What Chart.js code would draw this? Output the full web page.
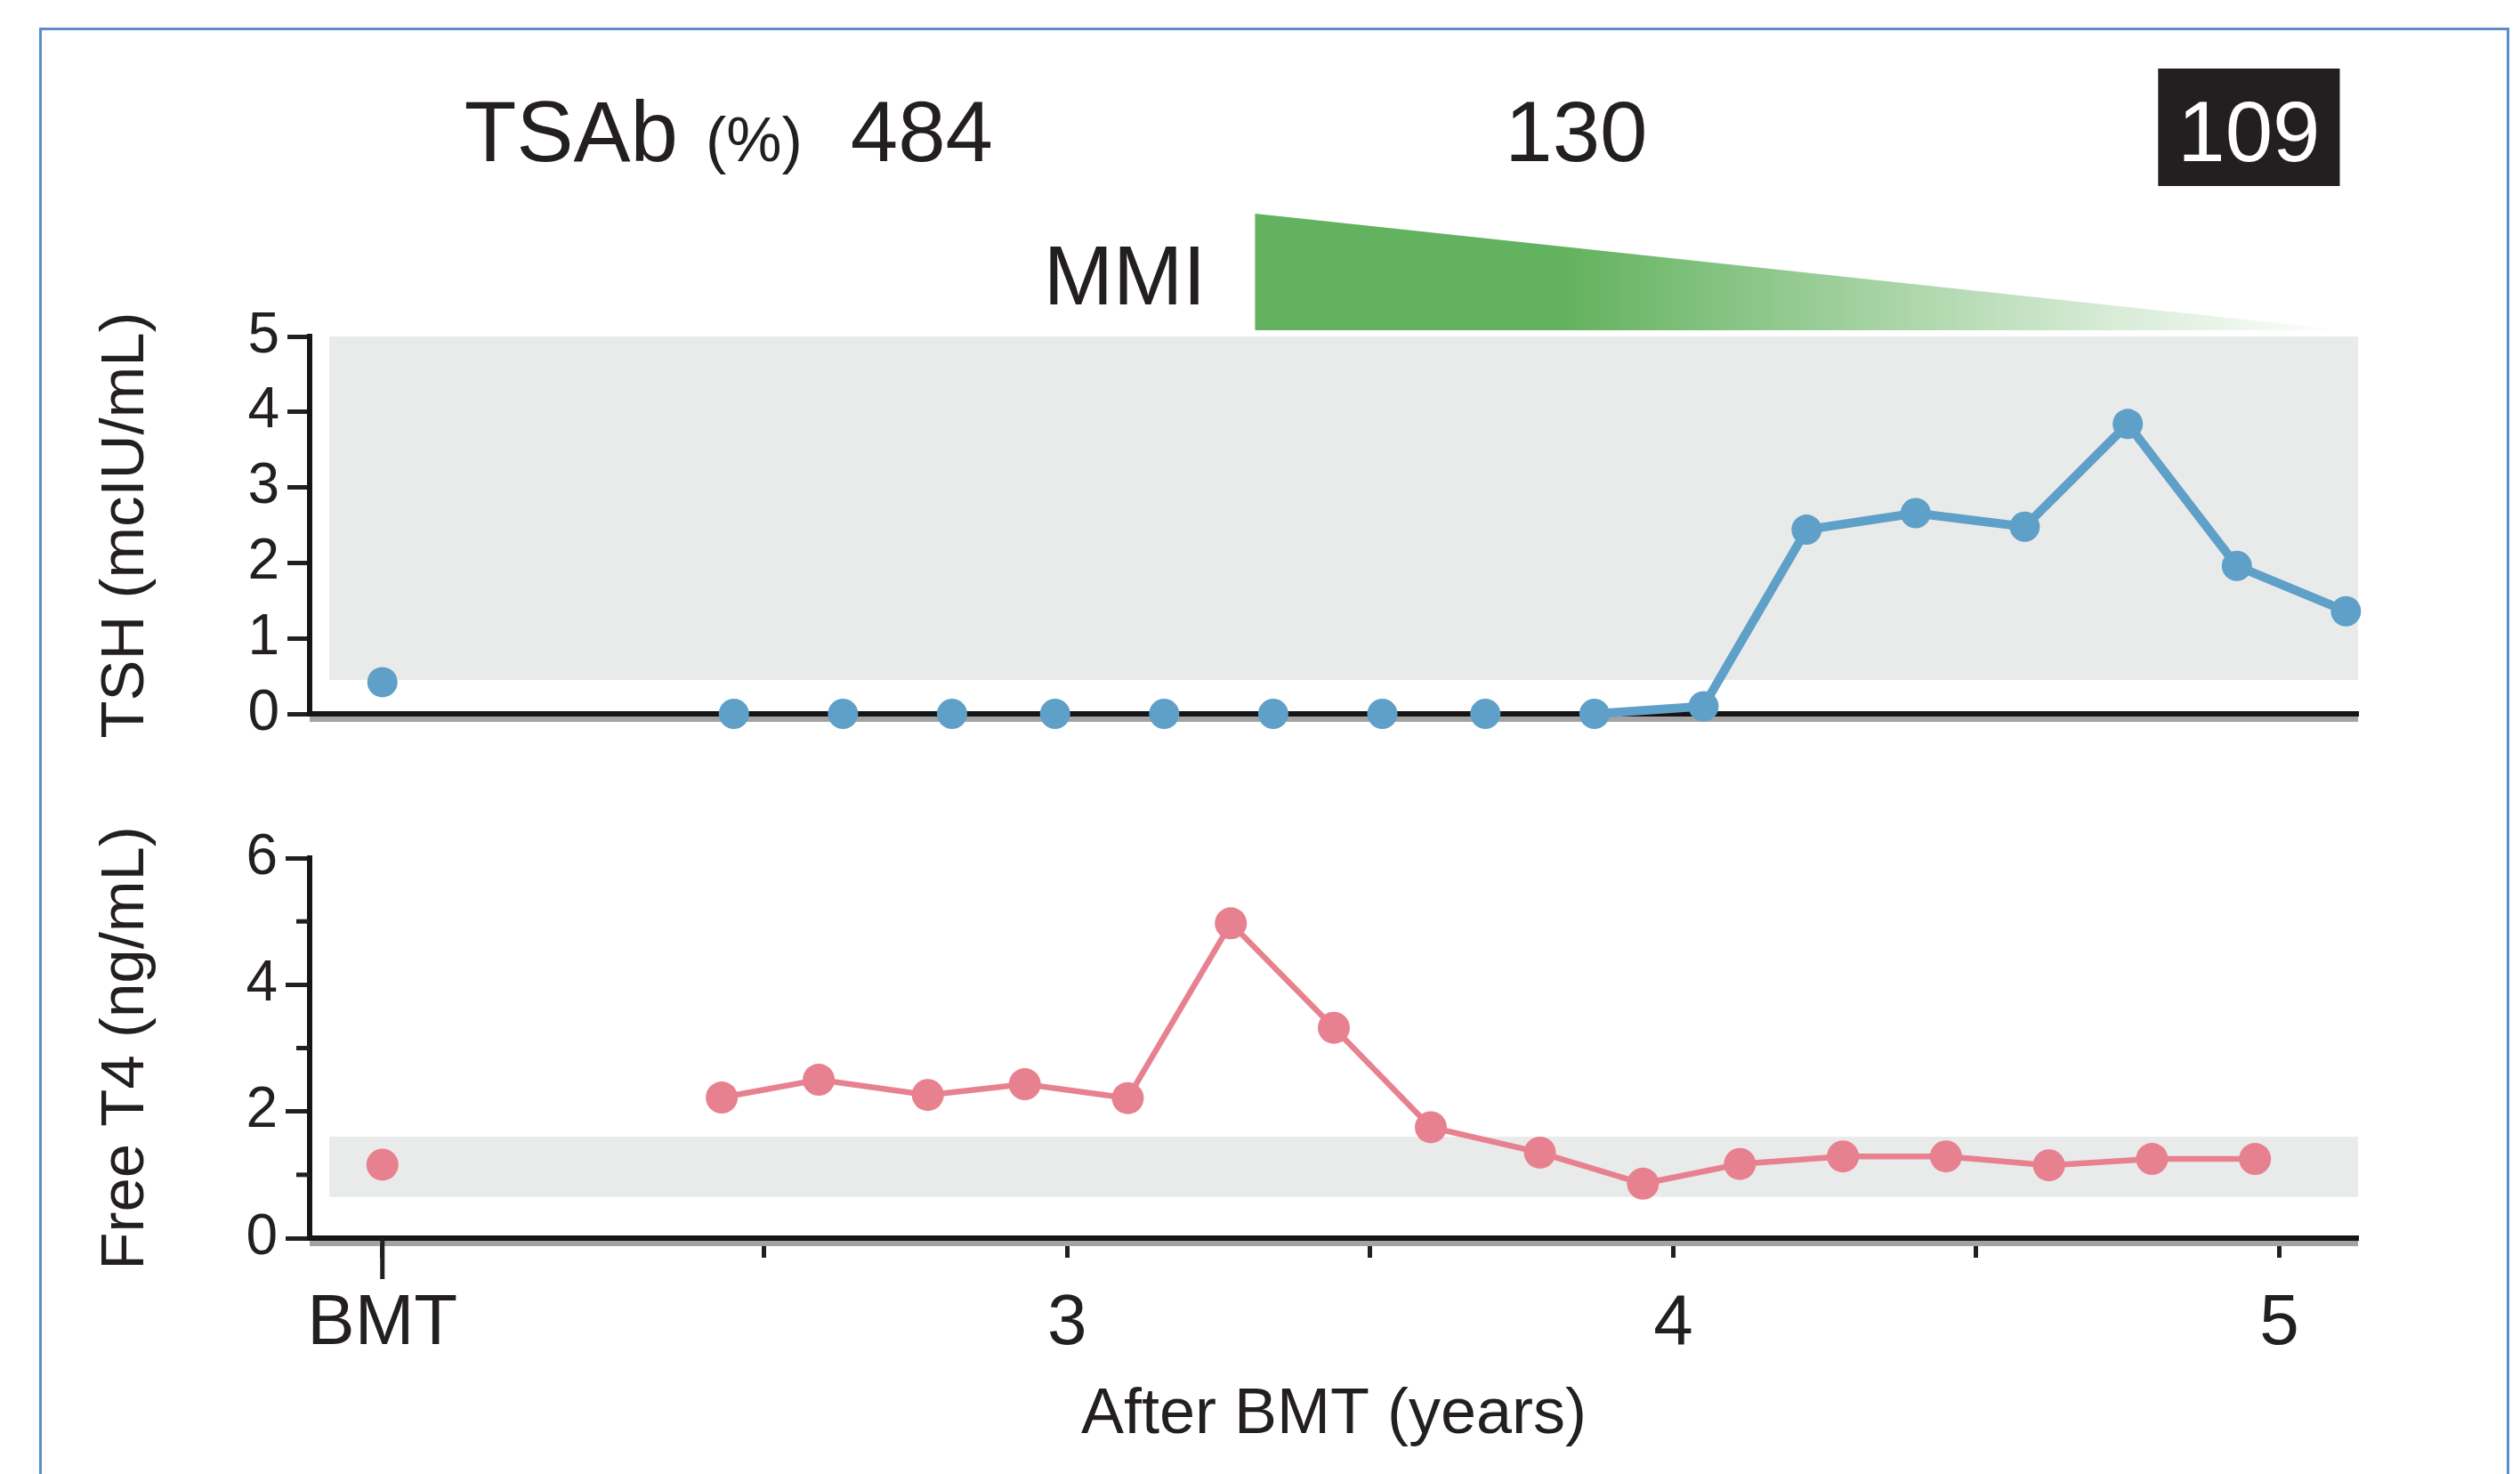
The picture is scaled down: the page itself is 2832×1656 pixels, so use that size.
<!DOCTYPE html>
<html>
<head>
<meta charset="utf-8">
<script src="https://cdn.jsdelivr.net/npm/chart.js@4.4.0/dist/chart.umd.min.js"></script>
<style>
  html, body { margin: 0; padding: 0; background: #fff; }
  #frame { position: absolute; left: 44px; top: 31px; width: 2770px; height: 1700px;
           border: 3px solid #5b8ec9; pointer-events: none; }
  #topChart { position: absolute; left: 0; top: 0; }
  #bottomChart { position: absolute; left: 0; top: 860px; }
</style>
</head>
<body>
<div id="frame"></div>
<canvas id="topChart" width="2832" height="860"></canvas>
<canvas id="bottomChart" width="2832" height="796"></canvas>
<script>
// x axis: years after BMT, with BMT itself shown at the axis break
const xMin = 1.75;
const xMax = 5.13;
const bmtX = 1.87;
const xTickValues = [1.87, 2.5, 3, 3.5, 4, 4.5, 5];
const xTickLabels = ['BMT', '', '3', '', '4', '', '5'];

// TSH (mcIU/mL)
const tshAtBmt = 0.42;
const tshYears = [2.45, 2.63, 2.81, 2.98, 3.16, 3.34, 3.52, 3.69, 3.87, 4.05, 4.22, 4.40, 4.58, 4.75, 4.93, 5.11];
const tshValues = [0, 0, 0, 0, 0, 0, 0, 0, 0, 0.1, 2.44, 2.66, 2.48, 3.84, 1.96, 1.36];
const tshNormal = [0.45, 5];

// Free T4 (ng/mL)
const ft4AtBmt = 1.16;
const ft4Years = [2.43, 2.59, 2.77, 2.93, 3.10, 3.27, 3.44, 3.60, 3.78, 3.95, 4.11, 4.28, 4.45, 4.62, 4.79, 4.96];
const ft4Values = [2.22, 2.50, 2.26, 2.43, 2.21, 4.97, 3.32, 1.75, 1.35, 0.86, 1.17, 1.29, 1.29, 1.15, 1.25, 1.25];
const ft4Normal = [0.65, 1.6];

// TSAb (%) measurements and MMI course
const tsabYears = [2.76, 3.84, 4.95];
const tsabLabels = ['484', '130', '109'];
const tsabBoxed = [false, false, true];
const mmiStart = 3.31;
const mmiFullUntil = 3.82;
const mmiEnd = 5.08;

const ink = '#231f20';
const blue = '#5fa0c8';
const pink = '#e8818f';
const green = [99, 178, 95];
const bandGrey = '#e9ebea';
const sans = "'Liberation Sans', Arial, sans-serif";

// grey normal-range band plus the soft shadow under the x axis line
const bandPlugin = {
    id: 'normalBand',
    beforeDatasetsDraw(chart, args, opts) {
        const {ctx, chartArea} = chart;
        const y = chart.scales.y;
        ctx.save();
        ctx.fillStyle = bandGrey;
        const top = y.getPixelForValue(opts.range[1]);
        const bottom = y.getPixelForValue(opts.range[0]);
        ctx.fillRect(chartArea.left + 22, top, chartArea.right - chartArea.left - 22, bottom - top);
        ctx.fillStyle = '#a3a3a3';
        ctx.fillRect(chartArea.left, chartArea.bottom + 3, chartArea.right - chartArea.left, 6);
        ctx.restore();
    }
};

// TSAb values and the tapering MMI wedge above the TSH panel
const headerPlugin = {
    id: 'header',
    afterDraw(chart) {
        const ctx = chart.ctx;
        const x = chart.scales.x;
        ctx.save();
        ctx.textBaseline = 'alphabetic';
        ctx.font = '96px ' + sans;
        let firstLeft = 0;
        tsabLabels.forEach((label, i) => {
            const cx = x.getPixelForValue(tsabYears[i]);
            const w = ctx.measureText(label).width;
            if (i === 0) firstLeft = cx - w / 2;
            if (tsabBoxed[i]) {
                ctx.fillStyle = ink;
                ctx.fillRect(cx - w / 2 - 22, 77, w + 44, 132);
                ctx.fillStyle = '#ffffff';
            } else {
                ctx.fillStyle = ink;
            }
            ctx.textAlign = 'center';
            ctx.fillText(label, cx, 181);
        });
        ctx.fillStyle = ink;
        ctx.textAlign = 'right';
        ctx.font = '70px ' + sans;
        ctx.fillText('(%)', firstLeft - 54, 181);
        const pctW = ctx.measureText('(%)').width;
        ctx.font = '96px ' + sans;
        ctx.fillText('TSAb', firstLeft - 54 - pctW - 31, 181);

        // MMI wedge
        const xs = x.getPixelForValue(mmiStart);
        const xf = x.getPixelForValue(mmiFullUntil);
        const xe = x.getPixelForValue(mmiEnd);
        const [r, g, b] = green;
        const grad = ctx.createLinearGradient(xs, 0, xe, 0);
        grad.addColorStop(0, `rgb(${r},${g},${b})`);
        grad.addColorStop((xf - xs) / (xe - xs), `rgb(${r},${g},${b})`);
        grad.addColorStop(0.8, `rgba(${r},${g},${b},0.25)`);
        grad.addColorStop(1, `rgba(${r},${g},${b},0.02)`);
        ctx.fillStyle = grad;
        ctx.beginPath();
        ctx.moveTo(xs, 240);
        ctx.lineTo(xe, 369);
        ctx.lineTo(xe, 371);
        ctx.lineTo(xs, 371);
        ctx.closePath();
        ctx.fill();
        ctx.fillStyle = ink;
        ctx.font = '94px ' + sans;
        ctx.textAlign = 'right';
        ctx.fillText('MMI', xs - 55, 342);
        ctx.restore();
    }
};

// short minor ticks on the free T4 axis and the longer BMT tick
const extraTicksPlugin = {
    id: 'extraTicks',
    afterDraw(chart) {
        const {ctx, chartArea} = chart;
        const y = chart.scales.y;
        const x = chart.scales.x;
        ctx.save();
        ctx.strokeStyle = ink;
        ctx.lineWidth = 5;
        for (let v = 1; v < 6; v += 2) {
            const py = y.getPixelForValue(v);
            ctx.beginPath();
            ctx.moveTo(chartArea.left - 15, py);
            ctx.lineTo(chartArea.left, py);
            ctx.stroke();
        }
        const bx = x.getPixelForValue(bmtX);
        ctx.beginPath();
        ctx.moveTo(bx, chartArea.bottom);
        ctx.lineTo(bx, chartArea.bottom + 46);
        ctx.stroke();
        ctx.restore();
    }
};

function points(xs, ys) {
    return xs.map((v, i) => ({x: v, y: ys[i]}));
}

function seriesStyle(color, width, radius) {
    return {
        borderColor: color,
        backgroundColor: color,
        pointBackgroundColor: color,
        borderWidth: width,
        pointRadius: radius,
        pointBorderWidth: 0,
        pointHoverRadius: radius,
        clip: false
    };
}

function yTitle(text) {
    return {display: true, text: text, color: ink, font: {family: sans, size: 69}, padding: {top: 41, bottom: 0}};
}

// TSH panel
new Chart(document.getElementById('topChart'), {
    type: 'line',
    data: {
        datasets: [
            Object.assign({
                data: points(tshYears, tshValues),
                segment: {
                    borderColor: c => (c.p0.parsed.y === 0 && c.p1.parsed.y === 0) ? 'rgba(0,0,0,0)' : undefined
                }
            }, seriesStyle(blue, 10, 17)),
            Object.assign({data: [{x: bmtX, y: tshAtBmt}], showLine: false}, seriesStyle(blue, 10, 17))
        ]
    },
    options: {
        responsive: false,
        animation: false,
        layout: {padding: {left: 60, top: 378, right: 182, bottom: 0}},
        plugins: {
            legend: {display: false},
            tooltip: {enabled: false},
            normalBand: {range: tshNormal}
        },
        scales: {
            x: {
                type: 'linear', min: xMin, max: xMax,
                ticks: {display: false},
                grid: {display: false},
                border: {color: '#151515', width: 6},
                afterFit: s => { s.height = 58; }
            },
            y: {
                min: 0, max: 5,
                ticks: {stepSize: 1, autoSkip: false, color: ink, padding: 9, font: {family: sans, size: 64}},
                grid: {drawOnChartArea: false, tickLength: 25, tickWidth: 5, tickColor: ink},
                border: {color: '#151515', width: 6},
                title: yTitle('TSH (mcIU/mL)'),
                afterFit: s => { s.width = 288; }
            }
        }
    },
    plugins: [bandPlugin, headerPlugin]
});

// Free T4 panel
new Chart(document.getElementById('bottomChart'), {
    type: 'line',
    data: {
        datasets: [
            Object.assign({data: points(ft4Years, ft4Values)}, seriesStyle(pink, 6.5, 18)),
            Object.assign({data: [{x: bmtX, y: ft4AtBmt}], showLine: false}, seriesStyle(pink, 6.5, 18))
        ]
    },
    options: {
        responsive: false,
        animation: false,
        layout: {padding: {left: 60, top: 104, right: 182, bottom: 0}},
        plugins: {
            legend: {display: false},
            tooltip: {enabled: false},
            normalBand: {range: ft4Normal}
        },
        scales: {
            x: {
                type: 'linear', min: xMin, max: xMax,
                afterBuildTicks: s => { s.ticks = xTickValues.map(v => ({value: v})); },
                ticks: {
                    autoSkip: false, maxRotation: 0, color: ink, padding: 27,
                    font: {family: sans, size: 80},
                    callback: (value, index) => xTickLabels[index]
                },
                grid: {drawOnChartArea: false, tickLength: 22, tickWidth: 5, tickColor: ink},
                border: {color: '#151515', width: 6},
                title: {display: true, text: 'After BMT (years)', color: ink, font: {family: sans, size: 72}, padding: {top: 0, bottom: 23}},
                afterFit: s => { s.height = 265; }
            },
            y: {
                min: 0, max: 6,
                ticks: {
                    stepSize: 1, autoSkip: false, color: ink, padding: 9, font: {family: sans, size: 64},
                    callback: v => (v % 2 === 0 ? v : '')
                },
                grid: {
                    drawOnChartArea: false, tickLength: 27, tickWidth: 5,
                    tickColor: c => (c.tick && c.tick.value % 2 !== 0) ? 'rgba(0,0,0,0)' : ink
                },
                border: {color: '#151515', width: 6},
                title: yTitle('Free T4 (ng/mL)'),
                afterFit: s => { s.width = 288; }
            }
        }
    },
    plugins: [bandPlugin, extraTicksPlugin]
});
</script>
</body>
</html>
